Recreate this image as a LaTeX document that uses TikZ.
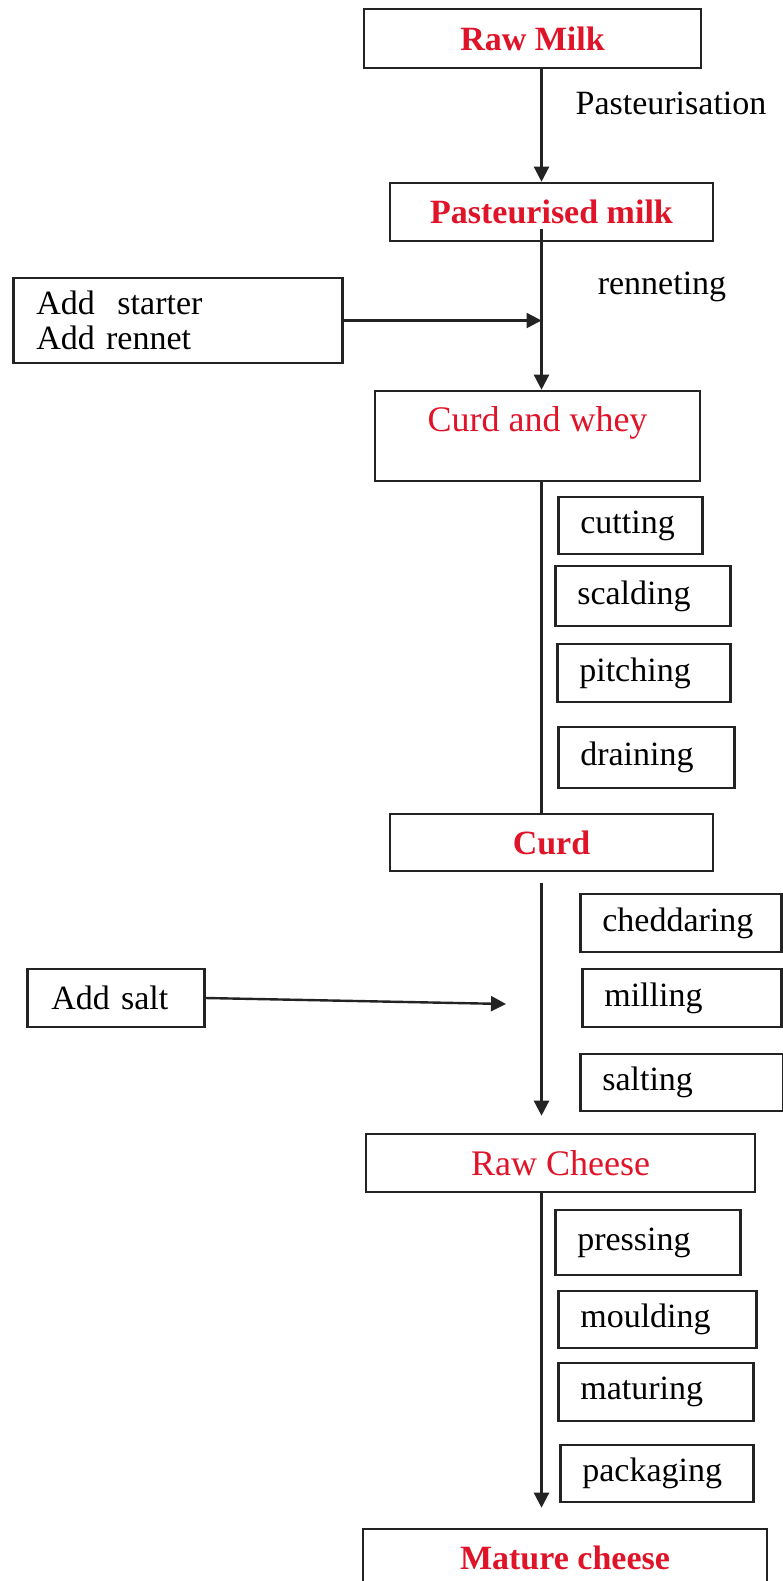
\documentclass[tikz,border=0pt]{standalone}
\usepackage{fontspec}
\setmainfont{Liberation Serif}
\usetikzlibrary{arrows.meta}
\definecolor{tred}{RGB}{224,20,40}
\definecolor{lgray}{RGB}{35,35,35}
\begin{document}
\begin{tikzpicture}[x=1pt,y=-1pt,
  every node/.style={font=\fontsize{34}{35}\selectfont},
  box/.style={draw=lgray, line width=2.6pt, inner sep=0pt},
  title/.style={text=tred, font=\fontsize{34}{35}\selectfont\bfseries},
  rtitle/.style={text=tred, font=\fontsize{36}{38}\selectfont},
  stepbox/.style={box, align=left, inner xsep=22pt, anchor=west},
  arr/.style={line width=2.4pt, draw=lgray, -{Triangle[length=15pt,width=15pt]}},
  ln/.style={line width=2.4pt, draw=lgray}]
\path[use as bounding box] (0,0) rectangle (783,1581);
\clip (0,0) rectangle (783,1581);
\coordinate (sp) at (541.5,0);

% main stages
\node[box, title, minimum width=337pt, minimum height=59pt] (rawmilk) at (532.5,38.5) {Raw Milk};
\node[box, title, minimum width=323pt, minimum height=58pt] (past) at (551.5,212) {Pasteurised milk};
\node[box, minimum width=325pt, minimum height=90pt] (cw) at (537.5,436) {};
\node[rtitle] (cwt) at (537.5,423) {Curd and whey};
\node[box, title, minimum width=323pt, minimum height=57pt] (curd) at (551.5,842.5) {Curd};
\node[box, rtitle, minimum width=389pt, minimum height=58pt] (rawcheese) at (560.5,1163) {Raw Cheese};
\node[box, title, minimum width=404pt, minimum height=58pt] (mature) at (565,1558) {Mature cheese};

% labels
\node (pastlbl) at (671,103) {Pasteurisation};
\node (renlbl) at (662,287) {renneting};

% inputs
\node[stepbox, inner xsep=23pt, text width=283pt, minimum height=85pt] (addst) at (12,320.5) {Add\ \ starter\\Add rennet};
\node[stepbox, inner xsep=24pt, text width=129pt, minimum height=58pt] (addsalt) at (26,998) {Add salt};

% side steps
\node[stepbox, text width=100pt, minimum height=57pt] (cutting) at (557,525.5) {cutting};
\node[stepbox, text width=131pt, minimum height=60pt] (scalding) at (554,596) {scalding};
\node[stepbox, text width=129pt, minimum height=58pt] (pitching) at (556,673) {pitching};
\node[stepbox, text width=132pt, minimum height=61pt] (draining) at (557,757.5) {draining};
\node[stepbox, text width=157pt, minimum height=58pt] (cheddaring) at (579,923) {cheddaring};
\node[stepbox, text width=155pt, minimum height=58pt] (milling) at (581,998) {milling};
\node[stepbox, text width=159pt, minimum height=57pt] (salting) at (579,1082.5) {salting};
\node[stepbox, text width=141pt, minimum height=65pt] (pressing) at (554,1242.5) {pressing};
\node[stepbox, text width=154pt, minimum height=57pt] (moulding) at (557,1319.5) {moulding};
\node[stepbox, text width=151pt, minimum height=58pt] (maturing) at (557,1392) {maturing};
\node[stepbox, text width=149pt, minimum height=57pt] (packaging) at (559,1473.5) {packaging};

% connectors
\path ([yshift=13pt]past.south) coordinate (ps);
\path ([yshift=-11pt]curd.south) coordinate (cs);
\path ([yshift=17pt]rawcheese.north) coordinate (rce);
\path ([yshift=20pt]mature.north) coordinate (me);
\coordinate (saltend) at (506,1004);

\draw[arr] (rawmilk.south -| sp) -- (past.north -| sp);
\draw[arr] (ps -| sp) -- (cw.north -| sp);
\draw[arr] (addst.east) -- (addst.east -| sp);
\draw[ln] (cw.south -| sp) -- (curd.north -| sp);
\draw[arr] (cs -| sp) -- (rce -| sp);
\draw[arr] (addsalt.east) -- (saltend);
\draw[arr] (rawcheese.south -| sp) -- (me -| sp);
\end{tikzpicture}
\end{document}
